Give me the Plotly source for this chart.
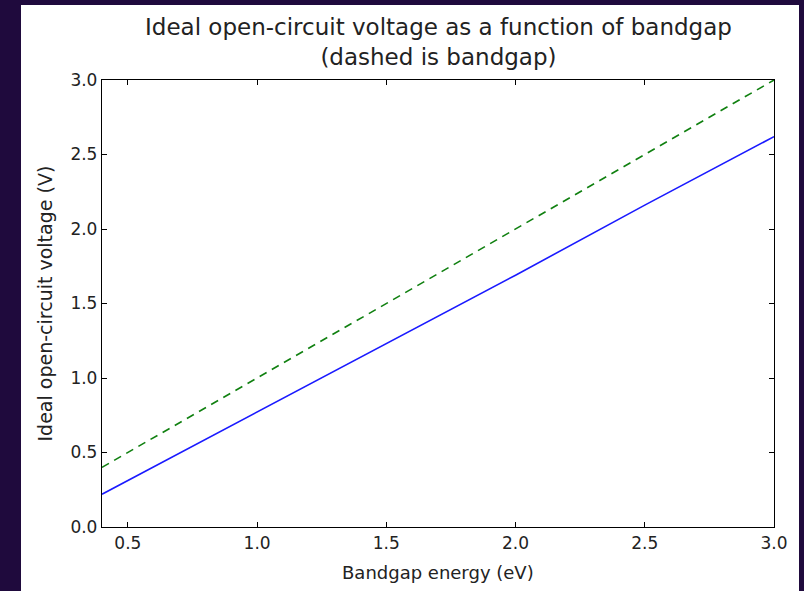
import plotly.graph_objects as go

# Data
bandgap = [0.4, 1.0, 1.5, 2.0, 2.5, 3.0]
voc = [0.22, 0.77, 1.23, 1.69, 2.16, 2.62]
bandgap_line_x = [0.4, 3.0]
bandgap_line_y = [0.4, 3.0]

x_ticks = [0.5, 1.0, 1.5, 2.0, 2.5, 3.0]
y_ticks = [0.0, 0.5, 1.0, 1.5, 2.0, 2.5, 3.0]

FONT = "DejaVu Sans"
L, R, T, B = 102, 30, 80, 64
W, H = 804, 591
pw, ph = W - L - R, H - T - B

def px_x(p):
    return (p - L) / pw

def px_y(p):
    return (H - B - p) / ph

fig = go.Figure()
fig.add_trace(go.Scatter(x=bandgap, y=voc, mode="lines",
                         line=dict(color="#1a1aff", width=1.6), showlegend=False))
fig.add_trace(go.Scatter(x=bandgap_line_x, y=bandgap_line_y, mode="lines",
                         line=dict(color="#108010", width=1.6, dash="8px,6px"), showlegend=False))

axis_common = dict(showline=True, linecolor="black", linewidth=1.3, mirror="ticks",
                   ticks="inside", ticklen=5, tickcolor="black", tickwidth=1,
                   showgrid=False, zeroline=False,
                   tickfont=dict(family=FONT, size=17, color="#222"))

fig.update_xaxes(range=[0.4, 3.0], tickvals=x_ticks,
                 ticktext=[f"{v:.1f}" for v in x_ticks], **axis_common)
fig.update_yaxes(range=[0.0, 3.0], tickvals=y_ticks,
                 ticktext=[f"{v:.1f}" for v in y_ticks], **axis_common)

fig.add_shape(type="rect", xref="paper", yref="paper",
              x0=px_x(21), x1=px_x(799), y0=px_y(600), y1=px_y(5),
              fillcolor="white", line=dict(width=0), layer="below")

fig.add_annotation(text="Ideal open-circuit voltage as a function of bandgap<br>(dashed is bandgap)",
                   xref="paper", yref="paper", x=0.5, y=px_y(42), xanchor="center", yanchor="middle",
                   showarrow=False, font=dict(family=FONT, size=23, color="#222"))
fig.add_annotation(text="Bandgap energy (eV)", xref="paper", yref="paper",
                   x=0.5, y=px_y(572), xanchor="center", yanchor="middle",
                   showarrow=False, font=dict(family=FONT, size=18, color="#222"))
fig.add_annotation(text="Ideal open-circuit voltage (V)", xref="paper", yref="paper",
                   x=px_x(44), y=0.5, xanchor="center", yanchor="middle", textangle=-90,
                   showarrow=False, font=dict(family=FONT, size=19, color="#222"))

fig.update_layout(width=W, height=H, margin=dict(l=L, r=R, t=T, b=B),
                  paper_bgcolor="#1f0a3d", plot_bgcolor="white")

fig.write_html("out.html", config={"displayModeBar": False},
               post_script="document.body.style.margin='0';document.body.style.overflow='hidden';")
